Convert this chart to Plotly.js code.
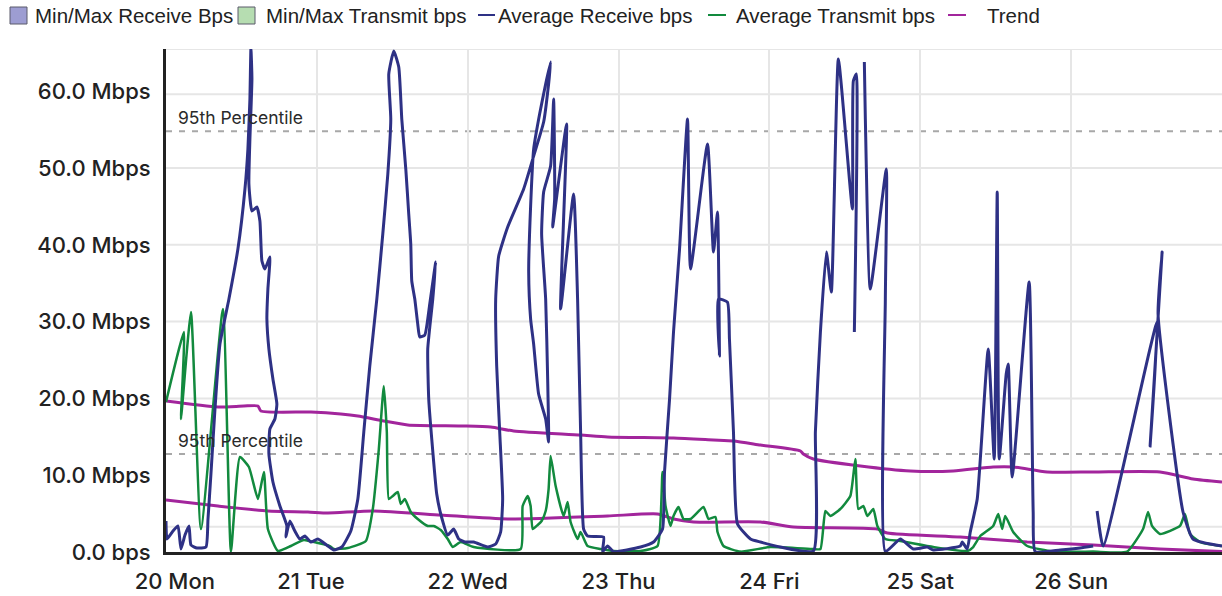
<!DOCTYPE html>
<html>
<head>
<meta charset="utf-8">
<script src="https://cdn.plot.ly/plotly-3.0.1.min.js"></script>
<style>html,body{margin:0;padding:0;background:#fff}#chart{width:1222px;height:596px}</style>
</head>
<body>
<div id="chart"></div>
<script>
// ---- data (x = hours since Mon 20 May 2019 00:00, y = Mbps) ----
const dayTicks = [0, 24, 48, 72, 96, 120, 144];
const dayLabels = ["\u00a0\u00a0\u00a020 Mon", "21 Tue\u00a0\u00a0", "22 Wed", "23 Thu", "24 Fri", "25 Sat", "26 Sun"];
const yTicks = [0, 10, 20, 30, 40, 50, 60];
const yLabels = ["0.0 bps", "10.0 Mbps", "20.0 Mbps", "30.0 Mbps", "40.0 Mbps", "50.0 Mbps", "60.0 Mbps"];
const gridLevels = [3.3, 20, 30, 40, 50, 59.6, 65.5];
const percentile95 = [54.8, 12.76];

const rxHours = [0,0.16,1.11,1.91,2.38,3.02,3.66,3.97,4.93,6.36,6.68,7.15,7.79,8.58,10.01,11.44,12.56,13.03,13.35,13.51,13.67,13.35,13.19,13.67,14.46,14.94,15.26,15.74,16.53,16.21,16.05,16.37,17.01,17.64,17.32,16.53,16.37,17.01,18.12,19.23,19.07,19.71,20.50,21.30,22.09,23.05,24.16,25.75,26.70,27.97,29.40,30.52,31.47,32.42,33.54,34.49,35.29,35.76,35.44,36.24,37.03,37.51,38.15,38.62,38.94,39.10,39.58,40.05,40.37,41.17,41.96,42.91,42.44,41.64,41.80,42.28,43.07,43.71,44.82,45.77,46.57,47.52,48.95,51.18,52.45,53.24,53.56,53.09,52.61,52.45,52.93,54.36,56.90,58.49,60.08,60.87,61.19,60.40,59.44,58.49,58.01,57.70,58.01,58.49,59.28,60.40,60.87,60.72,60.40,59.76,60.08,61.19,61.67,61.83,61.51,63.73,62.78,64.85,65.48,65.96,66.44,67.07,69.62,69.46,70.25,71.21,75.50,77.56,78.99,79.31,80.11,80.74,81.70,82.97,83.45,86.15,87.10,87.74,88.05,87.89,89.32,89.64,90.28,90.92,92.98,94.57,97.75,102.99,103.31,104.11,105.06,105.85,106.97,109.20,109.35,109.83,109.51,null,111.10,111.26,112.05,114.60,114.44,114.44,116.82,118.89,121.11,122.07,126.36,126.67,127.47,127.95,129.06,130.81,131.76,132.24,132.56,133.67,133.99,134.62,137.32,137.96,138.28,142.25,145.43,147.50,null,148.13,149.09,157.67,156.56,158.47,157.83,161.80,163.39,168.0];
const rxMbps = [4.04,1.69,2.73,3.39,0.39,2.21,3.39,0.91,0.52,0.65,4.30,10.16,18.62,27.08,32.94,39.45,47.27,52.47,58.98,65.6,61.59,53.78,47.92,44.40,44.92,43.10,37.89,36.85,38.41,34.24,30.34,26.43,22.53,19.27,17.32,16.02,12.76,9.11,5.99,3.39,1.95,4.04,2.73,1.69,2.08,1.30,1.69,0.78,0.26,0.65,2.73,6.90,15.63,24.22,32.94,41.41,49.22,56.38,62.24,65.23,63.15,56.38,49.87,44.01,40.10,35.29,32.94,29.69,27.99,28.25,32.29,37.76,32.94,26.43,19.92,14.71,7.55,4.95,2.21,2.99,1.69,1.30,1.30,0.65,1.04,2.60,6.90,15.63,24.22,32.94,38.54,42.32,47.27,51.56,55.99,60.94,63.80,60.94,57.03,52.47,45.05,36.46,30.34,27.08,20.57,17.32,14.32,22.53,32.94,41.41,46.88,50.26,58.98,45.96,42.32,55.73,31.64,46.61,32.94,15.63,2.99,2.08,1.95,0.05,0.78,0.05,0.65,1.30,2.99,10.42,19.92,28.65,39.45,56.38,36.85,53.13,39.06,44.27,25.52,32.94,32.55,27.73,15.63,3.65,1.69,1.30,0.65,0.13,15.63,28.65,39.06,33.85,64.19,44.66,61.33,62.24,28.65,null,63.80,56.38,34.24,49.87,32.94,0.05,1.69,0.39,0.65,0.26,0.78,1.30,0.39,2.60,6.90,26.43,12.11,46.88,12.11,23.18,24.48,9.77,35.16,5.21,0.05,0.26,0.52,0.78,null,5.34,0.78,29.95,13.80,39.06,30.99,5.21,1.69,0.78];

const txHours = [0,2.86,2.38,3.97,5.56,9.06,10.33,11.76,13.19,14.62,15.58,16.21,17.80,19.87,21.93,23.52,26.07,26.70,28.93,31.79,32.90,33.86,34.65,35.13,35.44,36.08,36.87,37.35,37.99,38.94,40.05,41.64,42.60,43.71,44.82,45.62,46.89,48.95,56.42,56.74,57.54,58.01,58.33,59.13,59.76,60.40,60.87,61.19,61.99,63.26,63.89,64.37,65.48,65.96,67.07,69.14,71.21,75.50,78.20,78.99,79.47,80.27,80.74,81.54,82.33,83.45,85.51,86.31,87.42,87.74,88.69,91.39,96.16,102.99,104.11,104.90,105.69,107.28,108.87,109.67,110.14,110.94,111.58,112.53,113.17,114.44,116.82,122.07,127.47,128.42,129.54,131.60,132.40,133.03,133.51,134.78,137.01,141.14,147.50,152.90,155.44,156.24,156.87,158.14,161.32,162.11,162.91,164.50,168.0];
const txMbps = [19.53,28.65,17.32,31.25,2.99,31.64,0.05,12.37,11.07,6.90,10.42,2.99,0.13,0.78,1.56,1.30,0.78,0.39,0.52,1.43,5.60,13.41,21.61,15.63,6.90,7.29,7.81,6.25,6.90,5.21,4.30,3.39,3.39,2.86,1.69,0.65,1.30,0.65,0.39,5.99,7.29,5.99,2.99,3.52,4.04,5.34,8.20,12.50,8.59,4.69,6.51,3.91,1.69,2.60,0.78,0.39,0.13,0.13,0.78,10.42,5.99,3.39,4.69,5.86,4.30,4.30,5.86,4.30,4.56,2.60,0.78,0.05,0.65,0.39,0.39,5.34,4.69,5.60,7.29,12.11,5.60,5.99,4.69,5.60,3.39,1.69,1.43,0.65,0.13,0.65,2.08,3.39,4.95,2.99,4.69,2.60,0.78,0.05,0.05,0.05,2.99,5.21,3.39,2.34,3.39,4.95,2.34,1.30,0.78];

const trendHiHours = [0,8.26,12.40,14.62,15.10,23.05,27.81,30.52,34.65,38.46,46.89,51.66,55.31,65.96,70.25,80.74,87.10,90.28,94.57,100.93,101.40,102.99,110.46,118.41,125.24,131.60,134.78,140.19,147.50,158.14,163.39,168.0];
const trendHiMbps = [19.66,18.88,19.01,19.01,18.36,18.23,17.97,17.71,17.06,16.54,16.41,16.28,15.76,15.23,14.97,14.84,14.58,14.45,13.93,13.15,12.76,12.11,11.20,10.55,10.55,11.07,11.07,10.42,10.42,10.42,9.51,9.11];
const trendLoHours = [0,8.26,16.21,22.57,25.75,33.06,43.71,54.36,70.25,78.20,80.74,83.92,94.57,99.81,113.17,114.76,126.36,137.01,147.50,158.14,168.0];
const trendLoMbps = [6.77,5.99,5.34,5.21,5.08,5.34,4.82,4.30,4.69,4.95,4.30,3.91,3.91,3.26,2.99,2.47,1.95,1.30,0.91,0.39,0.05];

const legendNames = ["Min/Max Receive Bps", "Min/Max Transmit bps", "Average Receive bps", "Average Transmit bps", "Trend"];

// ---- styling ----
const NAVY = "#2e3185", GREEN = "#128a3e", PURPLE = "#a2259c";
const FONT = "Liberation Sans, Arial, sans-serif";
const TICKFONT = "Inter, Liberation Sans, sans-serif";
const L = 166, T = 49, B = 44, W = 1222, H = 596;
const plotW = W - L, plotH = H - T - B;
const px2x = p => (p - L) / plotW;
const py2y = p => (H - B - p) / plotH;

const traces = [
  {x: trendHiHours, y: trendHiMbps, mode: "lines", line: {color: PURPLE, width: 3, shape: "spline", smoothing: 0.6}, name: legendNames[4]},
  {x: trendLoHours, y: trendLoMbps, mode: "lines", line: {color: PURPLE, width: 3, shape: "spline", smoothing: 0.6}, name: legendNames[4]},
  {x: txHours, y: txMbps, mode: "lines", line: {color: GREEN, width: 2.5, shape: "spline", smoothing: 0.45}, name: legendNames[3]},
  {x: rxHours, y: rxMbps, mode: "lines", line: {color: NAVY, width: 3, shape: "spline", smoothing: 0.45}, name: legendNames[2], connectgaps: false}
];

const shapes = [];
gridLevels.forEach(v => shapes.push({type: "line", xref: "paper", yref: "y", x0: 0, x1: 1, y0: v, y1: v, line: {color: "#e6e6e6", width: 2}, layer: "below"}));
percentile95.forEach(v => shapes.push({type: "line", xref: "paper", yref: "y", x0: 0, x1: 1, y0: v, y1: v, line: {color: "#a8a8a8", width: 2, dash: "6px,7px"}, layer: "below"}));

const annotations = [];
percentile95.forEach(v => annotations.push({xref: "paper", yref: "y", x: px2x(176), y: v, xanchor: "left", yanchor: "bottom", yshift: 1, text: "95th Percentile", showarrow: false, font: {family: TICKFONT, size: 17.5, color: "#2a2a2a"}}));

// custom legend
const legendItems = [
  {kind: "box", fill: "#9d9dd2", x0: 10, x1: 27, tx: 33},
  {kind: "box", fill: "#b6ddb1", x0: 238, x1: 255, tx: 264},
  {kind: "line", color: NAVY, x0: 478, x1: 495, tx: 496},
  {kind: "line", color: GREEN, x0: 708, x1: 726, tx: 734},
  {kind: "line", color: PURPLE, x0: 948, x1: 966, tx: 985}
];
legendItems.forEach((it, i) => {
  if (it.kind === "box") {
    shapes.push({type: "rect", xref: "paper", yref: "paper", x0: px2x(it.x0), x1: px2x(it.x1), y0: py2y(24), y1: py2y(7), fillcolor: it.fill, line: {color: "#5a5a6a", width: 1}});
  } else {
    shapes.push({type: "line", xref: "paper", yref: "paper", x0: px2x(it.x0), x1: px2x(it.x1), y0: py2y(15), y1: py2y(15), line: {color: it.color, width: 2}});
  }
  annotations.push({xref: "paper", yref: "paper", x: px2x(it.tx), y: py2y(15), xanchor: "left", yanchor: "middle", text: legendNames[i], showarrow: false, font: {family: FONT, size: 20.5, color: "#222"}});
});
annotations.push({xref: "paper", yref: "paper", x: px2x(96), y: py2y(591), xanchor: "right", yanchor: "top", text: "May 2019", showarrow: false, font: {family: TICKFONT, size: 22, color: "#222"}});

const tickFont = {family: TICKFONT, size: 22, color: "#222", weight: 500};
const layout = {
  width: W, height: H,
  margin: {l: L, r: 0, t: T, b: B, pad: 0},
  paper_bgcolor: "#fff", plot_bgcolor: "#fff",
  showlegend: false,
  hovermode: false,
  xaxis: {range: [0, 168], tickvals: dayTicks, ticktext: dayLabels, showgrid: true, gridcolor: "#e6e6e6", gridwidth: 2,
          showline: true, linecolor: "#222", linewidth: 3, zeroline: false, ticks: "outside", ticklen: 8, tickcolor: "rgba(0,0,0,0)", tickfont: tickFont},
  yaxis: {range: [0, 65.5], tickvals: yTicks, ticktext: yLabels, showgrid: false, showline: true, linecolor: "#222", linewidth: 3,
          zeroline: false, ticks: "outside", ticklen: 8, tickcolor: "rgba(0,0,0,0)", tickfont: tickFont},
  shapes: shapes,
  annotations: annotations
};
Plotly.newPlot("chart", traces, layout, {displayModeBar: false, staticPlot: true});
</script>
</body>
</html>
